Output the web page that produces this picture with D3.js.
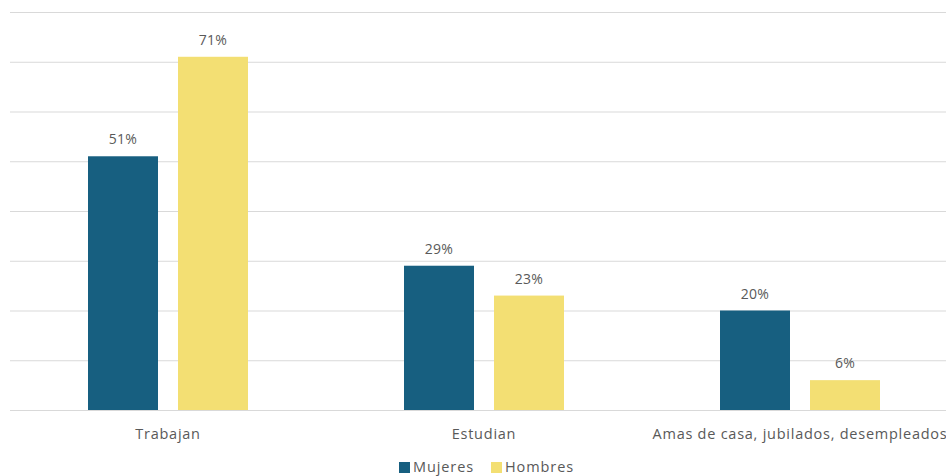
<!DOCTYPE html>
<html>
<head>
<meta charset="utf-8">
<script src="https://cdn.jsdelivr.net/npm/d3@7"></script>
<style>
  html, body { margin: 0; padding: 0; background: #fff; }
  svg { display: block; font-family: "Open Sans", "Noto Sans", sans-serif; }
</style>
</head>
<body>
<svg id="chart" width="946" height="476"></svg>
<script>
// Occupation by sex (percent)
const categories = ["Trabajan", "Estudian", "Amas de casa, jubilados, desempleados"];
const seriesNames = ["Mujeres", "Hombres"];
const mujeres = [51, 29, 20];
const hombres = [71, 23, 6];
const gridTicks = [0, 10, 20, 30, 40, 50, 60, 70, 80];
const colors = ["#175f80", "#f3df73"];

const svg = d3.select("#chart");
const plotLeft = 10, plotRight = 958, plotTop = 12, plotBottom = 410;

const x = d3.scaleBand().domain(categories).range([plotLeft, plotRight]).padding(0);
const xInner = d3.scaleBand().domain(seriesNames)
  .range([x.bandwidth() / 2 - 80, x.bandwidth() / 2 + 80]).paddingInner(2 / 9).paddingOuter(0);
const y = d3.scaleLinear().domain([0, 80]).range([plotBottom, plotTop]);

// gridlines
svg.append("g").selectAll("line").data(gridTicks).join("line")
  .attr("x1", plotLeft).attr("x2", 946)
  .attr("y1", d => y(d) + 0.5).attr("y2", d => y(d) + 0.5)
  .attr("stroke", "#d9d9d9").attr("stroke-width", 1);

const rows = categories.map((c, i) => ({ cat: c, vals: [mujeres[i], hombres[i]] }));

const groups = svg.append("g").selectAll("g").data(rows).join("g")
  .attr("transform", d => `translate(${x(d.cat)},0)`);

groups.selectAll("rect").data(d => d.vals.map((v, j) => ({ name: seriesNames[j], v, j })))
  .join("rect")
  .attr("x", d => xInner(d.name))
  .attr("width", xInner.bandwidth())
  .attr("y", d => y(d.v))
  .attr("height", d => y(0) - y(d.v))
  .attr("fill", d => colors[d.j]);

groups.selectAll("text.val").data(d => d.vals.map((v, j) => ({ name: seriesNames[j], v, j })))
  .join("text").attr("class", "val")
  .attr("x", d => xInner(d.name) + xInner.bandwidth() / 2)
  .attr("y", d => y(d.v) - 12)
  .attr("text-anchor", "middle")
  .attr("font-size", 14).attr("fill", "#595959").attr("letter-spacing", 0.3)
  .text(d => d.v + "%");

// category labels
svg.append("g").selectAll("text").data(categories).join("text")
  .attr("x", d => x(d) + x.bandwidth() / 2)
  .attr("y", 439)
  .attr("text-anchor", "middle")
  .attr("font-size", 14.5).attr("fill", "#595959")
  .attr("letter-spacing", 0.75)
  .text(d => d);

// legend
const legend = svg.append("g");
const legendX = [399, 491];
seriesNames.forEach((n, i) => {
  legend.append("rect").attr("x", legendX[i]).attr("y", 462).attr("width", 11).attr("height", 11)
    .attr("fill", colors[i]);
  legend.append("text").attr("x", legendX[i] + 14).attr("y", 472)
    .attr("font-size", 14.5).attr("fill", "#595959").attr("letter-spacing", 0.9)
    .text(n);
});
</script>
</body>
</html>
